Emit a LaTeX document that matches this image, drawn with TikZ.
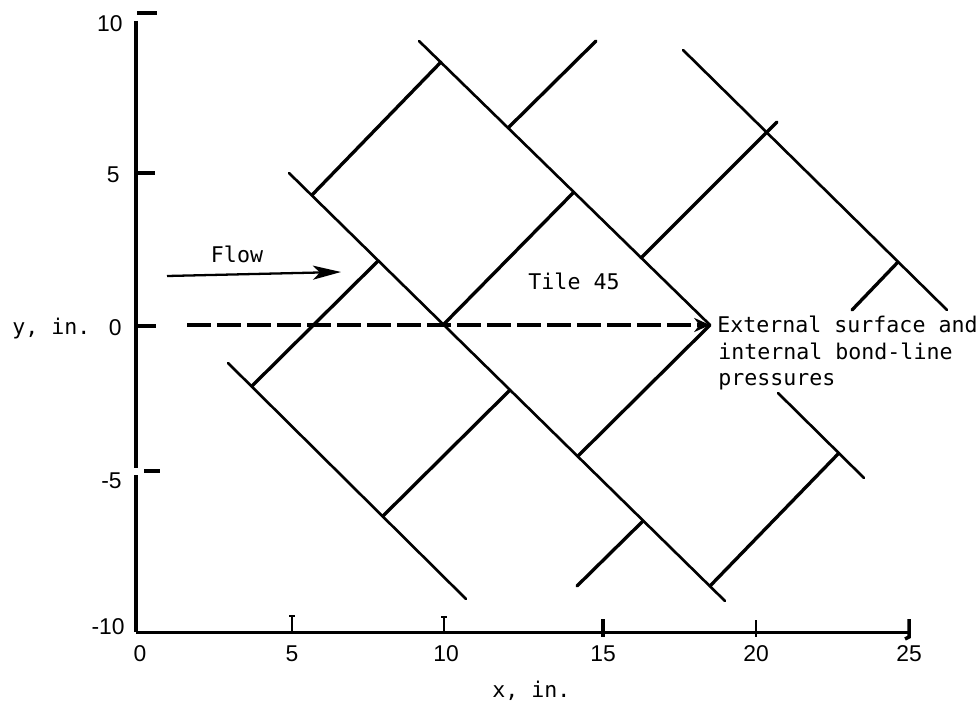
\documentclass[tikz,border=0pt]{standalone}
\usepackage{fontspec}
\setmainfont{Liberation Sans}
\newfontfamily\monof{DejaVu Sans Mono}
\usetikzlibrary{arrows.meta}
\begin{document}
\begin{tikzpicture}[x=0.02cm,y=-0.02cm,
  vaxis/.style={line width=2.3pt},
  haxis/.style={line width=1.7pt},
  tickthick/.style={line width=1.8pt},
  tickthin/.style={line width=0.9pt},
  edgeD/.style={line width=1.5pt, line cap=round},
  edgeU/.style={line width=1.9pt, line cap=round},
  numlab/.style={font=\fontsize{13}{15}\selectfont, inner sep=0pt},
  monolab/.style={font=\monof\fontsize{12.3}{14}\selectfont, inner sep=0pt},
  dashline/.style={line width=2.1pt, dash pattern=on 0.48cm off 0.12cm},
]
\useasboundingbox (0,0) rectangle (976,706);

% ---- axes ----
\coordinate (Ytop) at (136,21);
\coordinate (Ygap1) at (136,468);
\coordinate (Ygap2) at (136,475);
\coordinate (O) at (136,632);
\coordinate (Xend) at (909,632);
\draw[vaxis] (Ytop) -- (Ygap1);
\draw[vaxis] (Ygap2) -- (O);
\draw[haxis] (O) -- (Xend);

% y ticks
\coordinate (ty10a) at (137,13);  \coordinate (ty10b) at (157,13);
\coordinate (ty5a) at (137,173);  \coordinate (ty5b) at (155,173);
\coordinate (ty0a) at (137,326);  \coordinate (ty0b) at (156,326);
\coordinate (tym5a) at (144,471); \coordinate (tym5b) at (160,471);
\draw[tickthick] (ty10a) -- (ty10b);
\draw[tickthick] (ty5a) -- (ty5b);
\draw[tickthick] (ty0a) -- (ty0b);
\draw[line width=2.2pt] (tym5a) -- (tym5b);

% x ticks
\coordinate (tx5a) at (292,616);   \coordinate (tx5b) at (292,632);
\coordinate (tx5l) at (289,616);   \coordinate (tx5r) at (295,616);
\coordinate (tx10a) at (444,617);  \coordinate (tx10b) at (444,632);
\coordinate (tx10l) at (441,617);  \coordinate (tx10r) at (447,617);
\coordinate (tx15a) at (603,619);  \coordinate (tx15b) at (603,637);
\coordinate (tx20a) at (756,620);  \coordinate (tx20b) at (756,637);
\coordinate (tx25a) at (909,619);  \coordinate (tx25b) at (909,637);
\coordinate (tx25c) at (905,639);
\draw[tickthin] (tx5a) -- (tx5b);  \draw[tickthin] (tx5l) -- (tx5r);
\draw[tickthin] (tx10a) -- (tx10b); \draw[tickthin] (tx10l) -- (tx10r);
\draw[tickthick] (tx15a) -- (tx15b);
\draw[tickthin] (tx20a) -- (tx20b);
\draw[line width=2pt] (tx25a) -- (tx25b) -- (tx25c);

% axis numbers
\node[numlab, anchor=base east] (ly10) at (123,32) {10};
\node[numlab, anchor=base east] (ly5) at (120,182) {5};
\node[numlab, anchor=base east] (ly0) at (122,335) {0};
\node[numlab, anchor=base east] (lym5) at (122,488) {-5};
\node[numlab, anchor=base east] (lym10) at (125,634) {-10};
\node[numlab, anchor=base] (lx0) at (140,661) {0};
\node[numlab, anchor=base] (lx5) at (292,661) {5};
\node[numlab, anchor=base] (lx10) at (446,661) {10};
\node[numlab, anchor=base] (lx15) at (603,661) {15};
\node[numlab, anchor=base] (lx20) at (756,661) {20};
\node[numlab, anchor=base] (lx25) at (909,661) {25};

\node[monolab, anchor=base west] (ylab) at (12,334) {y, in.};
\node[monolab, anchor=base west] (xlab) at (492,697) {x,\hspace{0.6em}in.};

% ---- tile edges: "\" lines ----
\coordinate (A0) at (419,41);
\coordinate (Aj1) at (441,62);
\coordinate (Aj2) at (508,128);
\coordinate (Aj3) at (573,193);
\coordinate (Aj4) at (641,258);
\coordinate (Atip) at (710,325);

\coordinate (B0) at (289,173);
\coordinate (Bj1) at (312,195);
\coordinate (Bj2) at (378,261);
\coordinate (Bj3) at (443,325);
\coordinate (Bj4) at (510,390);
\coordinate (Bj5) at (578,456);
\coordinate (Bj6) at (643,521);
\coordinate (Bj7) at (710,586);
\coordinate (B1) at (725,601);

\coordinate (C0) at (228,363);
\coordinate (Cj1) at (252,386);
\coordinate (Cj2) at (383,516);
\coordinate (C1) at (466,599);

\coordinate (D0) at (683,50);
\coordinate (Dj1) at (767,132);
\coordinate (Dj2) at (898,262);
\coordinate (D1) at (947,310);

\coordinate (E0) at (778,393);
\coordinate (Ej) at (838,454);
\coordinate (E1) at (864,478);

\draw[edgeD] (A0) -- (Atip);
\draw[edgeD] (B0) -- (B1);
\draw[edgeD] (C0) -- (C1);
\draw[edgeD] (D0) -- (D1);
\draw[edgeD] (E0) -- (E1);

% ---- tile edges: "/" lines ----
\coordinate (U4end) at (596,41);
\coordinate (U7end) at (777,122);
\coordinate (U8start) at (852,310);
\coordinate (U9end) at (577,586);

\draw[edgeU] (Cj1) -- (Bj2);
\draw[edgeU] (Bj1) -- (Aj1);
\draw[edgeU] (Bj3) -- (Aj3);
\draw[edgeU] (Aj2) -- (U4end);
\draw[edgeU] (Cj2) -- (Bj4);
\draw[edgeU] (Bj5) -- (Atip);
\draw[edgeU] (Aj4) -- (U7end);
\draw[edgeU] (U8start) -- (Dj2);
\draw[edgeU] (Bj6) -- (U9end);
\draw[edgeU] (Bj7) -- (Ej);

% ---- dashed line to tile 45 ----
\coordinate (Dash0) at (187,325);
\draw[dashline, -{Stealth[length=9pt,width=8pt]}] (Dash0) -- (Atip);

% ---- flow arrow ----
\coordinate (F0) at (167,276);
\coordinate (F1) at (341,272);
\draw[line width=1.3pt, -{Stealth[length=16pt,width=8pt,inset=4pt]}] (F0) -- (F1);
\node[monolab] (flow) at (237,254) {Flow};

% ---- labels ----
\node[monolab] (tile) at (574,281) {Tile 45};
\node[monolab, anchor=base west] (ext1) at (717,332) {External surface and};
\node[monolab, anchor=base west] (ext2) at (718,359) {internal bond-line};
\node[monolab, anchor=base west] (ext3) at (718,385) {pressures};
\end{tikzpicture}
\end{document}
